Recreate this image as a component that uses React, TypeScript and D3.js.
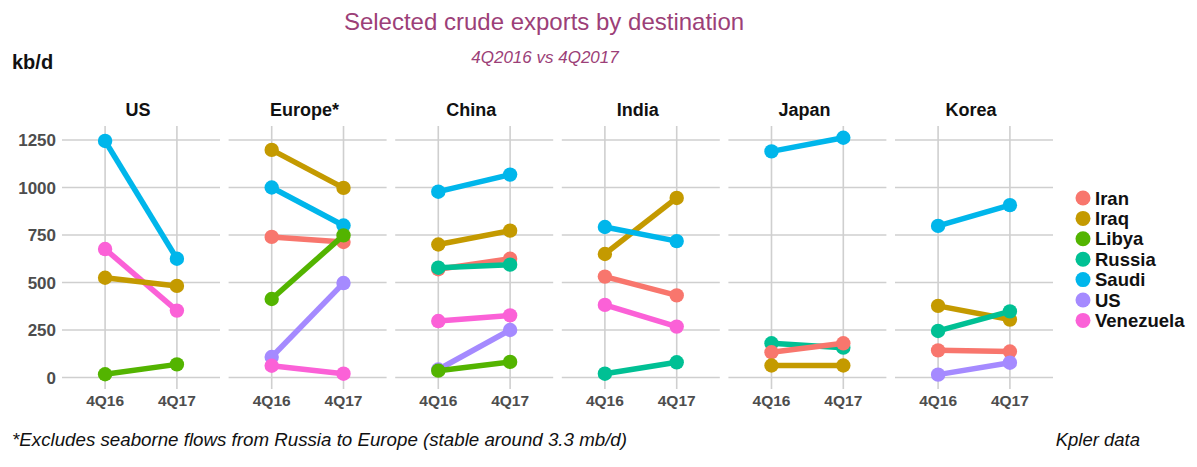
import React from "react";
import * as d3 from "d3";

const destinations = ["US", "Europe*", "China", "India", "Japan", "Korea"];
const periods = ["4Q16", "4Q17"];
const sources = ["Iran", "Iraq", "Libya", "Russia", "Saudi", "US", "Venezuela"];
const sourceColors = ["#F8766D", "#C49A00", "#53B400", "#00C094", "#00B6EB", "#A58AFF", "#FB61D7"];
const yTicks = [0, 250, 500, 750, 1000, 1250];

// [source, 4Q16, 4Q17]
const usFlows: [string, number, number][] = [
  ["Saudi", 1245, 625],
  ["Venezuela", 676, 352],
  ["Iraq", 525, 482],
  ["Libya", 17, 69],
];
const europeFlows: [string, number, number][] = [
  ["Iraq", 1198, 998],
  ["Saudi", 1000, 800],
  ["Iran", 740, 713],
  ["Libya", 413, 748],
  ["US", 108, 497],
  ["Venezuela", 62, 20],
];
const chinaFlows: [string, number, number][] = [
  ["Saudi", 978, 1068],
  ["Iraq", 700, 773],
  ["Iran", 570, 625],
  ["Russia", 578, 594],
  ["Venezuela", 297, 327],
  ["US", 42, 250],
  ["Libya", 36, 82],
];
const indiaFlows: [string, number, number][] = [
  ["Iraq", 650, 945],
  ["Saudi", 792, 718],
  ["Iran", 531, 432],
  ["Venezuela", 382, 268],
  ["Russia", 20, 80],
];
const japanFlows: [string, number, number][] = [
  ["Saudi", 1190, 1262],
  ["Russia", 180, 157],
  ["Iran", 133, 180],
  ["Iraq", 63, 63],
];
const koreaFlows: [string, number, number][] = [
  ["Saudi", 798, 907],
  ["Iraq", 377, 305],
  ["Russia", 245, 348],
  ["Iran", 143, 137],
  ["US", 15, 78],
];
const flowsByDestination = [usFlows, europeFlows, chinaFlows, indiaFlows, japanFlows, koreaFlows];

const W = 1197;
const H = 467;
const panelLeft0 = 62;
const panelW = 158;
const panelStep = 166.6;
const panelTop = 126;
const panelBottom = 389;

export default function App() {
  const color = d3.scaleOrdinal<string, string>().domain(sources).range(sourceColors);
  const y = d3.scaleLinear().domain([0, 1250]).range([377.5, 140]);
  const textGray = "#4d4d4d";
  const grid = "#cfcfcf";

  return (
    <div style={{ position: "absolute", left: 0, top: 0 }}>
      <svg width={W} height={H} style={{ display: "block", background: "#fff" }} fontFamily="Liberation Sans, Arial, sans-serif">
        <text x={544} y={30} textAnchor="middle" fontSize={24} fill="#9c3f78">Selected crude exports by destination</text>
        <text x={545} y={63} textAnchor="middle" fontSize={17} fontStyle="italic" fill="#9c3f78">4Q2016 vs 4Q2017</text>
        <text x={12} y={69} fontSize={20} fontWeight="bold" fill="#111">kb/d</text>

        {yTicks.map((t) => (
          <text key={t} x={56} y={y(t)} dy="0.36em" textAnchor="end" fontSize={17} fontWeight="bold" fill={textGray}>{t}</text>
        ))}

        {destinations.map((dest, i) => {
          const left = panelLeft0 + i * panelStep;
          const x = d3.scalePoint<string>().domain(periods).range([left, left + panelW]).padding(0.6);
          const flows = flowsByDestination[i];
          return (
            <g key={dest}>
              <text x={left + panelW / 2 - 3} y={116} textAnchor="middle" fontSize={18} fontWeight="bold" fill="#111">{dest}</text>
              {yTicks.map((t) => (
                <line key={t} x1={left} x2={left + panelW} y1={y(t)} y2={y(t)} stroke={grid} strokeWidth={1.6} />
              ))}
              {periods.map((p) => (
                <line key={p} x1={x(p)} x2={x(p)} y1={panelTop} y2={panelBottom} stroke={grid} strokeWidth={1.6} />
              ))}
              {periods.map((p) => (
                <text key={p} x={x(p)} y={406} textAnchor="middle" fontSize={15.5} fontWeight="bold" fill={textGray}>{p}</text>
              ))}
              {flows.map(([src, a, b]) => {
                const line = d3.line<[string, number]>().x((d) => x(d[0]) as number).y((d) => y(d[1]));
                const pts: [string, number][] = [[periods[0], a], [periods[1], b]];
                return (
                  <g key={src}>
                    <path d={line(pts) || ""} stroke={color(src)} strokeWidth={5.5} fill="none" />
                    {pts.map((d) => (
                      <circle key={d[0]} cx={x(d[0])} cy={y(d[1])} r={7.2} fill={color(src)} />
                    ))}
                  </g>
                );
              })}
            </g>
          );
        })}

        {sources.map((s, i) => (
          <g key={s} transform={`translate(0, ${198 + i * 20.4})`}>
            <circle cx={1083} cy={0} r={7.5} fill={color(s)} />
            <text x={1095} y={0} dy="0.36em" fontSize={18.5} fontWeight="bold" fill="#111">{s}</text>
          </g>
        ))}

        <text x={12} y={446} fontSize={19} fontStyle="italic" textLength={615} lengthAdjust="spacingAndGlyphs" fill="#111">*Excludes seaborne flows from Russia to Europe (stable around 3.3 mb/d)</text>
        <text x={1140} y={446} textAnchor="end" fontSize={18.5} fontStyle="italic" fill="#111">Kpler data</text>
      </svg>
    </div>
  );
}
